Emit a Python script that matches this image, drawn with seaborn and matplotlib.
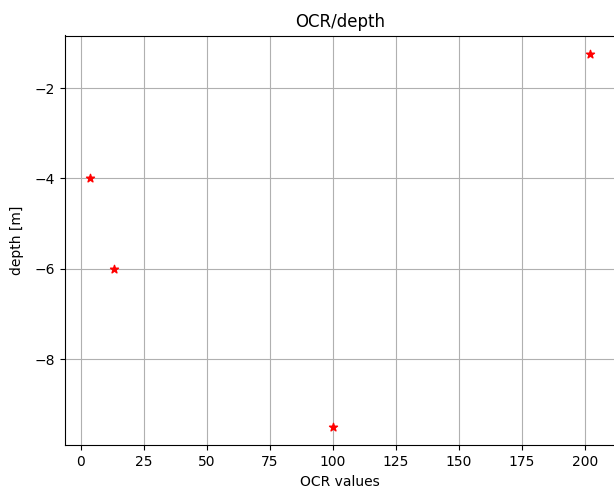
import matplotlib
matplotlib.use("Agg")
import matplotlib.pyplot as plt
import seaborn as sns
import pandas as pd

# OCR measurements against sample depth
ocr_values = [3.5, 13.0, 100.0, 202.0]
depth_m = [-4.0, -6.0, -9.5, -1.25]

df = pd.DataFrame({"OCR values": ocr_values, "depth [m]": depth_m})

fig = plt.figure(figsize=(6.14, 4.95), dpi=100)
left_px, right_px = 64.6, 614.8
ax = fig.add_axes([left_px / 614, 49.6 / 495, (right_px - left_px) / 614, (445.4 - 35.5) / 495])

sns.scatterplot(data=df, x="OCR values", y="depth [m]", marker="*", color="red",
                edgecolor="red", linewidth=1.0, s=36, ax=ax, zorder=3)

ax.grid(True, color="#b0b0b0", linewidth=0.8)
ax.set_axisbelow(True)
ax.set_title("OCR/depth")
ax.set_xlabel("OCR values")
ax.set_ylabel("depth [m]", labelpad=7.5)

fig.savefig("out.png", dpi=100)
